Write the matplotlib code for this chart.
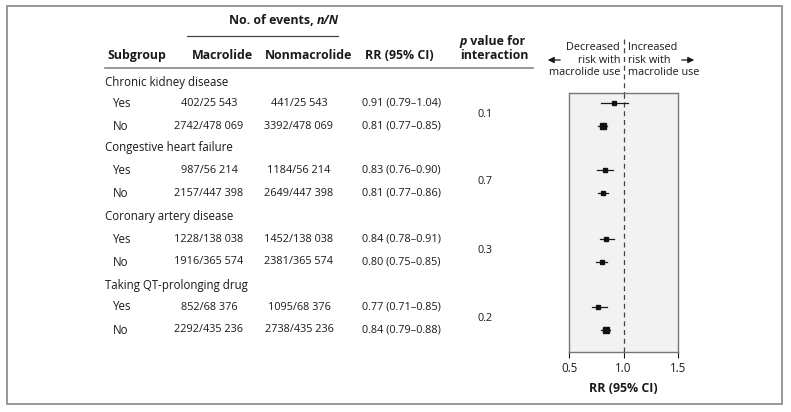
import numpy as np
import matplotlib.pyplot as plt
from matplotlib.patches import Rectangle

plt.rcParams['font.family'] = ['Open Sans', 'DejaVu Sans']

groups = ["Chronic kidney disease", "Congestive heart failure",
          "Coronary artery disease", "Taking QT-prolonging drug"]
levels = ["Yes", "No"]
macrolide = ["402/25 543", "2742/478 069", "987/56 214", "2157/447 398",
             "1228/138 038", "1916/365 574", "852/68 376", "2292/435 236"]
nonmacrolide = ["441/25 543", "3392/478 069", "1184/56 214", "2649/447 398",
                "1452/138 038", "2381/365 574", "1095/68 376", "2738/435 236"]
rr = [0.91, 0.81, 0.83, 0.81, 0.84, 0.80, 0.77, 0.84]
lo = [0.79, 0.77, 0.76, 0.77, 0.78, 0.75, 0.71, 0.79]
hi = [1.04, 0.85, 0.90, 0.86, 0.91, 0.85, 0.85, 0.88]
p_int = ["0.1", "0.7", "0.3", "0.2"]
events = [843, 6134, 2171, 4806, 2680, 4297, 1947, 5030]

W, H = 791, 412
fig = plt.figure(figsize=(W / 100, H / 100), dpi=100)
ax = fig.add_axes([0, 0, 1, 1])
ax.set_xlim(0, W)
ax.set_ylim(H, 0)
ax.axis('off')

ax.add_patch(Rectangle((6.5, 6), 775.5, 398, fill=False, ec='#999999', lw=1.4))

fs = 8.3
nfs = 7.8
ink = '#1a1a1a'
bold = dict(fontsize=fs + 0.6, fontweight='bold', color=ink)
# header
ax.text(317, 20, "No. of events, ", ha='right', va='center', **bold)
ax.text(317, 20, "n/N", ha='left', va='center', style='italic', **bold)
ax.plot([187, 338], [36, 36], color='#444444', lw=0.9)
ax.text(107, 55, "Subgroup", ha='left', va='center', **bold)
ax.text(222, 55, "Macrolide", ha='center', va='center', **bold)
ax.text(309, 55, "Nonmacrolide", ha='center', va='center', **bold)
ax.text(399, 55, "RR (95% CI)", ha='center', va='center', **bold)
ax.text(459, 41, "p", ha='left', va='center', style='italic', **bold)
ax.text(467, 41, " value for", ha='left', va='center', **bold)
ax.text(494, 55, "interaction", ha='center', va='center', **bold)
ax.plot([105, 533], [67.5, 67.5], color='#888888', lw=1.2)

group_y = [82, 148, 216, 285]
row_y = [103, 126, 170, 193, 239, 262, 307, 330]
txt = dict(fontsize=fs, color=ink, va='center')
num = dict(fontsize=nfs, color=ink, va='center')
for g in range(4):
    ax.text(105, group_y[g], groups[g], ha='left', **txt)
    ax.text(485, (row_y[2 * g] + row_y[2 * g + 1]) / 2, p_int[g], ha='center', **num)
    for k in range(2):
        i = 2 * g + k
        y = row_y[i]
        ax.text(113, y, levels[k], ha='left', **txt)
        ax.text(209, y, macrolide[i], ha='center', **num)
        ax.text(299, y, nonmacrolide[i], ha='center', **num)
        ax.text(362, y, "%.2f (%.2f\u2013%.2f)" % (rr[i], lo[i], hi[i]), ha='left', **num)

# direction labels
dfs = 7.8
ax.text(620, 60, "Decreased\nrisk with\nmacrolide use", ha='right', va='center',
        fontsize=dfs, color=ink, linespacing=1.15)
ax.text(628, 60, "Increased\nrisk with\nmacrolide use", ha='left', va='center',
        fontsize=dfs, color=ink, linespacing=1.15)
ax.annotate("", xy=(545, 60), xytext=(563, 60),
            arrowprops=dict(arrowstyle='-|>', color=ink, lw=0.9, mutation_scale=9))
ax.annotate("", xy=(697, 60), xytext=(679, 60),
            arrowprops=dict(arrowstyle='-|>', color=ink, lw=0.9, mutation_scale=9))
ax.plot([624, 624], [39, 93], color='#444444', lw=0.9, ls=(0, (4, 3)))

# forest plot
top, bot, left, right = 93, 352, 569, 678
fa = fig.add_axes([left / W, (H - bot) / H, (right - left) / W, (bot - top) / H])
fa.set_facecolor('#f2f2f2')
fa.set_xlim(0.5, 1.5)
fa.set_ylim(bot, top)
fa.set_yticks([])
fa.set_xticks([0.5, 1.0, 1.5])
fa.set_xticklabels(["0.5", "1.0", "1.5"])
fa.tick_params(axis='x', labelsize=fs, colors=ink, length=4, width=0.8, pad=3)
for s in fa.spines.values():
    s.set_color('#777777')
    s.set_linewidth(1.0)
fa.axvline(1.0, color='#444444', lw=0.9, ls=(0, (4, 3)))
ms = 1.7 + 2.1 * np.sqrt(np.array(events) / max(events))
for i in range(8):
    fa.plot([lo[i], hi[i]], [row_y[i], row_y[i]], color=ink, lw=0.9)
    fa.plot(rr[i], row_y[i], marker='s', ms=ms[i], color='#111111')
fa.set_xlabel("RR (95% CI)", fontsize=fs + 0.6, fontweight='bold', color=ink, labelpad=5)

fig.savefig("out.png", dpi=100)
